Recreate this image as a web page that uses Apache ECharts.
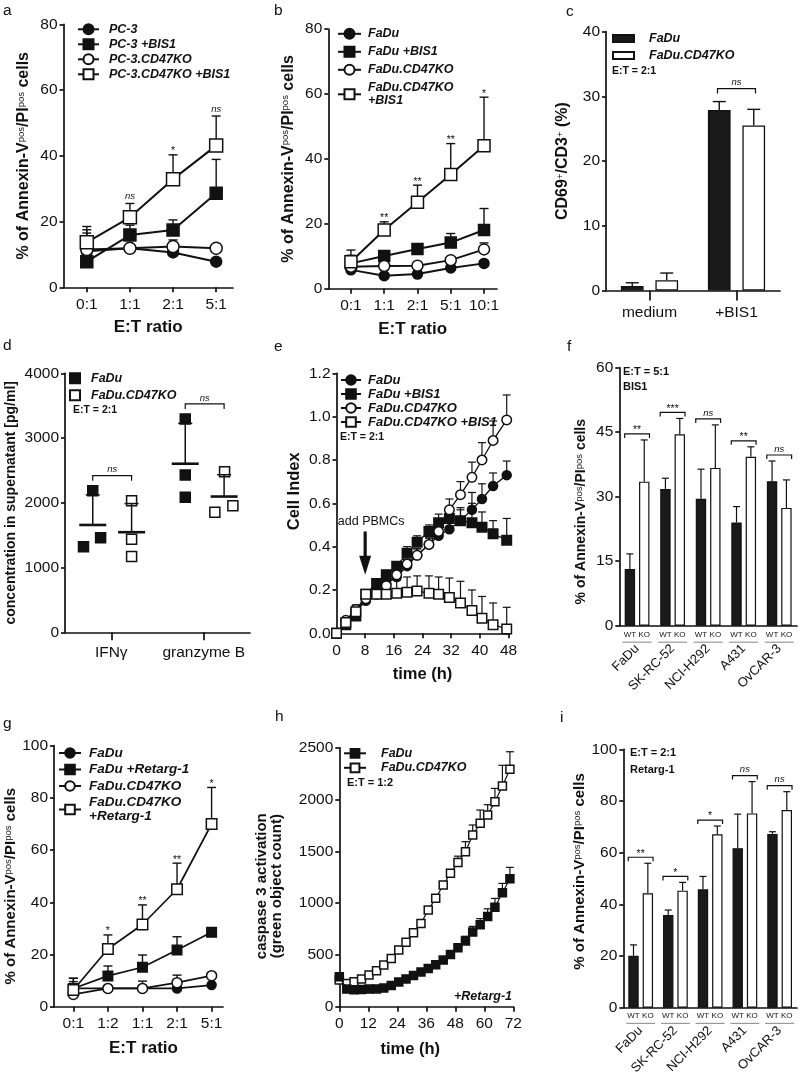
<!DOCTYPE html>
<html><head><meta charset="utf-8">
<script src="https://cdn.jsdelivr.net/npm/echarts@6/dist/echarts.min.js"></script>
<style>html,body{margin:0;padding:0;background:#fff}#c{width:800px;height:1072px}</style>
</head><body><div id="c"></div>
<script>
// ================= DATA =================
// panel a
const catsA = ['0:1','1:1','2:1','5:1'];
const aPC3 = [11.0, 11.9, 10.6, 7.8];      const aPC3Err = [6.5, 1.0, 1.0, 0.6];
const aPC3Bis = [7.8, 15.9, 17.4, 28.6];   const aPC3BisErr = [3.5, 3.0, 3.1, 10.3];
const aKO = [11.5, 11.9, 12.4, 11.9];      const aKOErr = [5.0, 1.0, 2.0, 0.6];
const aKOBis = [13.7, 21.3, 32.9, 43.1];   const aKOBisErr = [4.8, 4.2, 7.4, 9.0];
const sigA = ['', 'ns', '*', 'ns'];
// panel b
const catsB = ['0:1','1:1','2:1','5:1','10:1'];
const bFaDu = [5.8, 4.0, 4.5, 6.4, 7.8];       const bFaDuErr = [0.5, 0.5, 0.5, 0.5, 0.8];
const bFaDuBis = [7.8, 10.1, 12.2, 14.2, 18.1]; const bFaDuBisErr = [4.1, 1.0, 1.0, 2.8, 6.6];
const bKO = [6.8, 7.0, 7.1, 8.8, 12.1];         const bKOErr = [1.0, 0.5, 0.5, 1.0, 2.0];
const bKOBis = [8.3, 18.1, 26.6, 35.2, 44.0];   const bKOBisErr = [2.0, 2.5, 5.3, 9.5, 15.0];
const sigB = ['', '**', '**', '**', '*'];
// panel c
const catsC = ['medium', '+BIS1'];
const cFaDu = [0.7, 27.9]; const cFaDuErr = [0.5, 1.3];
const cKO = [1.6, 25.5];   const cKOErr = [1.1, 2.5];
const sigC = ['', 'ns'];
// panel d (replicates per category)
const catsD = ['IFNγ', 'granzyme B'];
const dFaDu = [[1323, 2188, 1462], [3295, 2430, 2085]];
const dKO = [[2033, 1436, 1169], [2481, 1853, 1956]];
const sigD = ['ns', 'ns'];
// panel e
const tE = [0, 2.6, 5.4, 8.2, 11.2, 13.9, 16.8, 19.7, 22.5, 25.8, 28.5, 31.5, 34.6, 37.8, 40.6, 43.7, 47.5];
const eFaDu = [0.00,0.05,0.10,0.15,0.19,0.23,0.26,0.31,0.36,0.41,0.45,0.48,0.52,0.57,0.62,0.68,0.73];
const eFaDuErr = [0,0,0.02,0.02,0.02,0.02,0.03,0.03,0.03,0.03,0.03,0.04,0.05,0.08,0.07,0.06,0.065];
const eFaDuBis = [0.00,0.04,0.08,0.18,0.23,0.27,0.31,0.37,0.42,0.47,0.51,0.53,0.52,0.51,0.49,0.46,0.43];
const eFaDuBisErr = [0,0,0.03,0.02,0.02,0.02,0.02,0.03,0.03,0.03,0.04,0.03,0.06,0.09,0.07,0.06,0.10];
const eKO = [0.00,0.06,0.11,0.16,0.18,0.22,0.27,0.32,0.36,0.41,0.47,0.57,0.64,0.72,0.80,0.89,0.985];
const eKOErr = [0,0,0.02,0.02,0.02,0.02,0.02,0.02,0.03,0.03,0.04,0.05,0.06,0.07,0.08,0.09,0.115];
const eKOBis = [0.00,0.05,0.10,0.18,0.18,0.18,0.185,0.19,0.195,0.185,0.18,0.165,0.14,0.105,0.07,0.04,0.02];
const eKOBisErr = [0,0,0.03,0.02,0.02,0.04,0.06,0.07,0.07,0.08,0.08,0.09,0.10,0.095,0.10,0.10,0.10];
const eArrow = [[8, 0.47, 0.27]];   // PBMC addition at 8 h
// panel f
const catsF = ['FaDu','SK-RC-52','NCI-H292','A431','OvCAR-3'];
const fWT = [13.2, 31.8, 29.5, 24.0, 33.6]; const fWTErr = [3.5, 2.5, 6.9, 3.7, 4.7];
const fKO = [33.5, 44.5, 36.7, 39.3, 27.4]; const fKOErr = [9.7, 3.7, 10.0, 2.3, 6.5];
const sigF = ['**', '***', 'ns', '**', 'ns'];
// panel g
const catsG = ['0:1','1:2','1:1','2:1','5:1'];
const gFaDu = [7.0, 7.0, 7.0, 7.0, 8.3];      const gFaDuErr = [3.9, 0.5, 0.5, 0.5, 0.5];
const gFaDuR = [7.0, 11.8, 15.1, 21.7, 28.5]; const gFaDuRErr = [2.6, 3.8, 4.7, 5.1, 0.4];
const gKO = [4.7, 7.0, 7.0, 9.2, 11.9];        const gKOErr = [1.0, 0.5, 2.8, 2.9, 0.5];
const gKOR = [6.4, 22.1, 31.5, 45.0, 70.0];    const gKORErr = [4.5, 5.4, 7.5, 10.0, 14.0];
const sigG = ['', '*', '**', '**', '*'];
// panel h
const tH = [0,3.1,6.1,9.2,12.3,15.4,18.4,21.5,24.6,27.6,30.7,33.8,36.8,39.9,43,46,49.1,52.2,55.2,58.3,61.4,64.4,67.5,70.6];
const hFaDu = [290,170,163,167,170,172,180,205,238,268,300,335,368,405,450,505,570,635,720,790,870,960,1100,1235];
const hFaDuErr = [0,0,0,0,0,0,0,0,0,0,0,0,0,0,15,25,30,45,55,60,75,85,90,110];
const hKO = [257,225,241,267,306,347,402,466,547,621,714,804,933,1046,1174,1287,1393,1496,1657,1770,1850,1979,2130,2291];
const hKOErr = [0,0,0,0,0,0,0,0,0,0,0,0,0,0,0,30,60,97,97,128,100,128,200,170];
// panel i
const catsI = ['FaDu','SK-RC-52','NCI-H292','A431','OvCAR-3'];
const iWT = [20.1, 35.9, 45.8, 61.7, 67.2]; const iWTErr = [4.2, 1.9, 5.0, 13.2, 0.9];
const iKO = [44.3, 45.3, 67.1, 75.2, 76.5]; const iKOErr = [11.6, 3.2, 3.2, 12.3, 7.1];
const sigI = ['**', '*', '*', 'ns', 'ns'];

// ================= LAYOUT / STYLE =================
const FONT = '"Liberation Sans", Arial, Helvetica, sans-serif';
const INK = '#111';
const TICK_FS = 15.5;
const D_OFF = {fadu: -0.2, ko: 0.22};
const D_JIT = {fadu: [[-0.1, 0, 0.085], [0, 0, 0]], ko: [[0, 0, 0], [0.005, -0.1, 0.095]]};

const grids = [], xAxis = [], yAxis = [], series = [], legend = [], gfx = [];
function grid(l, t, r, b) { grids.push({left: l, top: t, width: r - l, height: b - t, containLabel: false, outerBoundsMode: 'none'}); return grids.length - 1; }
function axLine() { return {show: true, onZero: false, lineStyle: {color: INK, width: 1.7}}; }
function tick(len, extra) { return Object.assign({show: true, length: len, inside: false, lineStyle: {color: INK, width: 1.7}}, extra || {}); }
function lab(size, margin, extra) { return Object.assign({color: INK, fontFamily: FONT, fontSize: size, margin: margin}, extra || {}); }
const SUP = {fontSize: 9.5, fontWeight: 'normal', fontFamily: FONT, color: INK, verticalAlign: 'top'};
function nameSt(size, pad) { return {color: INK, fontFamily: FONT, fontSize: size, fontWeight: 'bold', padding: pad || 0, rich: {s: SUP}}; }
const plain = v => String(Math.round(v * 1000) / 1000);

function yAx(g, min, max, interval, name, gap, size, pad, fmt) {
  return {gridIndex: g, type: 'value', min, max, interval, axisLine: axLine(), axisTick: tick(4),
    axisLabel: lab(TICK_FS, 6, {formatter: fmt || plain}), splitLine: {show: false},
    name, nameLocation: 'middle', nameGap: gap, nameTextStyle: nameSt(size, pad)};
}
function xCatVal(g, cats, min, max, name, gap, pad) {
  const idx = cats.map((_, i) => i);
  return {gridIndex: g, type: 'value', min, max, axisLine: axLine(), axisTick: tick(5, {customValues: idx}),
    axisLabel: lab(TICK_FS, 9, {customValues: idx, formatter: v => cats[Math.round(v)]}), splitLine: {show: false},
    name, nameLocation: 'middle', nameGap: gap, nameTextStyle: nameSt(17, pad)};
}
function xNum(g, min, max, interval, name, gap, pad) {
  return {gridIndex: g, type: 'value', min, max, interval, axisLine: axLine(), axisTick: tick(5),
    axisLabel: lab(TICK_FS, 9, {formatter: plain}), splitLine: {show: false},
    name, nameLocation: 'middle', nameGap: gap, nameTextStyle: nameSt(16.5, pad)};
}
function xCat(g, cats, tickShow, rotate, margin, size) {
  return {gridIndex: g, type: 'category', data: cats, boundaryGap: true, axisLine: axLine(),
    axisTick: tick(10, {show: tickShow, alignWithLabel: true}),
    axisLabel: lab(size, margin, {rotate: rotate, interval: 0}), splitLine: {show: false}};
}
function ln(g, name, xs, ys, sym, size, filled, lw, z) {
  return {type: 'line', name, xAxisIndex: g, yAxisIndex: g, data: xs.map((x, i) => [x, ys[i]]),
    symbol: sym, symbolSize: size, showAllSymbol: true, lineStyle: {color: INK, width: lw},
    itemStyle: {color: filled ? INK : '#fff', borderColor: INK, borderWidth: 1.5, opacity: 1},
    emphasis: {disabled: true}, z: z || 3, clip: false, animation: false};
}
function errS(g, xs, ys, es, cap, dx, lw) {
  return {type: 'custom', xAxisIndex: g, yAxisIndex: g, data: xs.map((x, i) => [x, ys[i], es[i]]),
    encode: {x: 0, y: 1}, z: 2, silent: true, animation: false, clip: false,
    renderItem: (p, api) => {
      const x = api.value(0), v = api.value(1), e = api.value(2);
      if (!(e > 0)) return null;
      const a = api.coord([x, v]), b = api.coord([x, v + e]);
      const px = a[0] + (dx || 0); const st = {stroke: INK, lineWidth: lw || 1.4};
      return {type: 'group', children: [
        {type: 'line', shape: {x1: px, y1: a[1], x2: px, y2: b[1]}, style: st},
        {type: 'line', shape: {x1: px - cap / 2, y1: b[1], x2: px + cap / 2, y2: b[1]}, style: st}]};
    }};
}
function txtStyle(t) {
  const ns = t === 'ns';
  return {text: t, fill: INK, fontFamily: FONT, fontSize: ns ? 9.5 : 10.5, fontStyle: ns ? 'italic' : 'normal', align: 'center', verticalAlign: 'bottom'};
}
function sigS(g, cats, tops, labels) {
  return {type: 'custom', xAxisIndex: g, yAxisIndex: g, data: cats.map((_, i) => [i, tops[i]]),
    encode: {x: 0, y: 1}, z: 4, silent: true, animation: false, clip: false,
    renderItem: (p, api) => {
      const t = labels[p.dataIndex]; if (!t) return null;
      const c = api.coord([api.value(0), api.value(1)]);
      return {type: 'text', x: c[0], y: c[1] - (t === 'ns' ? 2 : -2), style: txtStyle(t)};
    }};
}
function brkS(g, rows, labels, pxL, pxR, gap, drop) {
  return {type: 'custom', xAxisIndex: g, yAxisIndex: g, data: rows, encode: {x: 0, y: 1},
    z: 4, silent: true, animation: false, clip: false,
    renderItem: (p, api) => {
      const t = labels[p.dataIndex]; if (!t) return null;
      const a = api.coord([api.value(0), api.value(1)]), b = api.coord([api.value(2), api.value(1)]);
      const y = a[1] - gap, l = a[0] - pxL, r = b[0] + pxR;
      return {type: 'group', children: [
        {type: 'polyline', shape: {points: [[l, y + drop], [l, y], [r, y], [r, y + drop]]}, style: {stroke: INK, lineWidth: 1.2, fill: null}},
        {type: 'text', x: (l + r) / 2, y: y - (t === 'ns' ? 1 : -2), style: txtStyle(t)}]};
    }};
}
function tops(n, list) { return Array.from({length: n}, (_, i) => Math.max(...list.map(s => s[0][i] + s[1][i]))); }
function leg(names, left, top, fs, gap, ih, iw, spacer, fmt, icon) {
  const o = {show: true, orient: 'vertical', left, top, data: names, itemWidth: iw, itemHeight: ih, itemGap: gap,
    padding: 0, selectedMode: false,
    textStyle: {color: INK, fontFamily: FONT, fontSize: fs, fontWeight: 'bold', fontStyle: 'italic', rich: {s: {width: spacer}}},
    formatter: fmt || (n => '{s| }' + n.slice(2))};
  if (icon) o.icon = icon;
  return o;
}
function txt(t, x, y, size, weight, style, align) {
  gfx.push({type: 'text', x, y, silent: true, style: {text: t, fill: INK, fontFamily: FONT, fontSize: size,
    fontWeight: weight || 'normal', fontStyle: style || 'normal', align: align || 'left', verticalAlign: 'middle'}});
}
const ANNEX = '% of Annexin-V{s|pos}/PI{s|pos} cells';

// ---------- panel a ----------
let g = grid(63.5, 24.3, 233, 287.3);
xAxis.push(xCatVal(g, catsA, -0.54, 3.39, 'E:T ratio', 32));
yAxis.push(yAx(g, 0, 80, 20, ANNEX, 31.5, 16));
{
  const xs = catsA.map((_, i) => i);
  series.push(errS(g, xs, aPC3, aPC3Err, 9), errS(g, xs, aPC3Bis, aPC3BisErr, 9), errS(g, xs, aKO, aKOErr, 9), errS(g, xs, aKOBis, aKOBisErr, 9));
  series.push(ln(g, 'a:PC-3', xs, aPC3, 'circle', 11, true, 2),
              ln(g, 'a:PC-3 +BIS1', xs, aPC3Bis, 'rect', 12, true, 2),
              ln(g, 'a:PC-3.CD47KO', xs, aKO, 'circle', 12, false, 2),
              ln(g, 'a:PC-3.CD47KO +BIS1', xs, aKOBis, 'rect', 13, false, 2));
  series.push(sigS(g, catsA, tops(4, [[aPC3, aPC3Err], [aPC3Bis, aPC3BisErr], [aKO, aKOErr], [aKOBis, aKOBisErr]]), sigA));
  legend.push(leg(['a:PC-3', 'a:PC-3 +BIS1', 'a:PC-3.CD47KO', 'a:PC-3.CD47KO +BIS1'], 77, 22.8, 12.5, 2, 12.5, 21, 5));
}
// ---------- panel b ----------
g = grid(328.3, 29, 497, 288.7);
xAxis.push(xCatVal(g, catsB, -0.68, 4.39, 'E:T ratio', 32));
yAxis.push(yAx(g, 0, 80, 20, ANNEX, 32, 16));
{
  const xs = catsB.map((_, i) => i);
  series.push(errS(g, xs, bFaDu, bFaDuErr, 9), errS(g, xs, bFaDuBis, bFaDuBisErr, 9), errS(g, xs, bKO, bKOErr, 9), errS(g, xs, bKOBis, bKOBisErr, 9));
  series.push(ln(g, 'b:FaDu', xs, bFaDu, 'circle', 10, true, 2),
              ln(g, 'b:FaDu +BIS1', xs, bFaDuBis, 'rect', 11, true, 2),
              ln(g, 'b:FaDu.CD47KO', xs, bKO, 'circle', 11, false, 2),
              ln(g, 'b:FaDu.CD47KO +BIS1', xs, bKOBis, 'rect', 12, false, 2));
  series.push(sigS(g, catsB, tops(5, [[bFaDu, bFaDuErr], [bFaDuBis, bFaDuBisErr], [bKO, bKOErr], [bKOBis, bKOBisErr]]), sigB));
  legend.push(leg(['b:FaDu', 'b:FaDu +BIS1', 'b:FaDu.CD47KO', 'b:FaDu.CD47KO +BIS1'], 337, 27.3, 12.5, 5, 12.5, 23, 2,
    n => '{s| }' + n.slice(2).replace('CD47KO +BIS1', 'CD47KO\n{s| }+BIS1')));
}
// ---------- panel c ----------
g = grid(606, 31.7, 780, 290.5);
xAxis.push(xCat(g, catsC, true, 0, 14, 15.5));
yAxis.push(yAx(g, 0, 40, 10, 'CD69{s|+}/CD3{s|+} (%)', 35, 16));
{
  const BW = 22.7, GAP = 11.8, OFF = (BW + GAP) / 2;
  series.push({type: 'bar', name: 'c:FaDu', xAxisIndex: g, yAxisIndex: g, data: cFaDu, barWidth: BW, barGap: (GAP / BW * 100) + '%',
    itemStyle: {color: '#1a1a1a', borderColor: INK, borderWidth: 1.3}, z: 2, animation: false, emphasis: {disabled: true}});
  series.push({type: 'bar', name: 'c:FaDu.CD47KO', xAxisIndex: g, yAxisIndex: g, data: cKO, barWidth: BW,
    itemStyle: {color: '#fff', borderColor: INK, borderWidth: 1.3}, z: 2, animation: false, emphasis: {disabled: true}});
  const xs = catsC.map((_, i) => i);
  series.push(errS(g, xs, cFaDu, cFaDuErr, 13, -OFF, 1.4), errS(g, xs, cKO, cKOErr, 13, OFF, 1.4));
  const t = tops(2, [[cFaDu, cFaDuErr], [cKO, cKOErr]]);
  series.push(brkS(g, xs.map(i => [i, t[i], i]), sigC, 19, 19, 13, 5));
  legend.push(leg(['c:FaDu', 'c:FaDu.CD47KO'], 612, 32, 12.5, 4, 7, 21, 10, null, 'rect'));
  txt('E:T = 2:1', 612, 71, 10.5, 'bold');
}
// ---------- panel d ----------
g = grid(65, 373.3, 250, 632.3);
{
  const idx = catsD.map((_, i) => i);
  xAxis.push({gridIndex: g, type: 'value', min: -0.5, max: 1.5, axisLine: axLine(), axisTick: tick(8, {customValues: idx}),
    axisLabel: lab(TICK_FS, 12, {customValues: idx, formatter: v => catsD[Math.round(v)]}), splitLine: {show: false}});
  yAxis.push(yAx(g, 0, 4000, 1000, 'concentration in supernatant [pg/ml]', 47, 14));
  const mean = a => a.reduce((s, v) => s + v, 0) / a.length;
  const sd = a => { const m = mean(a); return Math.sqrt(a.reduce((s, v) => s + (v - m) * (v - m), 0) / (a.length - 1)); };
  const pts = (reps, off, jit) => reps.flatMap((r, ci) => r.map((v, k) => [ci + off + jit[ci][k], v]));
  const msRows = (reps, off) => reps.map((r, ci) => [ci + off, mean(r), sd(r)]);
  const msS = rows => ({type: 'custom', xAxisIndex: g, yAxisIndex: g, data: rows, encode: {x: 0, y: 1}, z: 4, silent: true, clip: false, animation: false,
    renderItem: (p, api) => {
      const a = api.coord([api.value(0), api.value(1)]), b = api.coord([api.value(0), api.value(1) + api.value(2)]);
      return {type: 'group', children: [
        {type: 'line', shape: {x1: a[0] - 13.5, y1: a[1], x2: a[0] + 13.5, y2: a[1]}, style: {stroke: INK, lineWidth: 2.6}},
        {type: 'line', shape: {x1: a[0], y1: a[1], x2: a[0], y2: b[1]}, style: {stroke: INK, lineWidth: 1.5}},
        {type: 'line', shape: {x1: a[0] - 7, y1: b[1], x2: a[0] + 7, y2: b[1]}, style: {stroke: INK, lineWidth: 1.5}}]};
    }});
  series.push({type: 'scatter', name: 'd:FaDu', xAxisIndex: g, yAxisIndex: g, data: pts(dFaDu, D_OFF.fadu, D_JIT.fadu), symbol: 'rect', symbolSize: 10,
    itemStyle: {color: INK, borderColor: INK, borderWidth: 1.5, opacity: 1}, z: 3, animation: false, emphasis: {disabled: true}});
  series.push({type: 'scatter', name: 'd:FaDu.CD47KO', xAxisIndex: g, yAxisIndex: g, data: pts(dKO, D_OFF.ko, D_JIT.ko), symbol: 'rect', symbolSize: 10,
    itemStyle: {color: '#fff', borderColor: INK, borderWidth: 1.5, opacity: 1}, z: 3, animation: false, emphasis: {disabled: true}});
  series.push(msS(msRows(dFaDu, D_OFF.fadu)), msS(msRows(dKO, D_OFF.ko)));
  const brTop = idx.map(i => Math.max(...dFaDu[i], ...dKO[i], mean(dFaDu[i]) + sd(dFaDu[i]), mean(dKO[i]) + sd(dKO[i])));
  series.push(brkS(g, idx.map(i => [i + D_OFF.fadu, brTop[i], i + D_OFF.ko]), sigD, 0, 0, 15, 5));
  legend.push(leg(['d:FaDu', 'd:FaDu.CD47KO'], 69, 371.7, 12.5, 4, 10, 10, 6, null));
  txt('E:T = 2:1', 73, 410, 10.5, 'bold');
}
// ---------- panel e ----------
g = grid(336.5, 373.3, 508.5, 633.3);
xAxis.push(xNum(g, 0, 48, 8, 'time (h)', 33));
yAxis.push(yAx(g, 0, 1.2, 0.2, 'Cell Index', 34, 16.5, [0, 0, 0, 24], v => v.toFixed(1)));
{
  series.push(errS(g, tE, eFaDu, eFaDuErr, 8, 0, 1.2), errS(g, tE, eFaDuBis, eFaDuBisErr, 8, 0, 1.2),
              errS(g, tE, eKO, eKOErr, 8, 0, 1.2), errS(g, tE, eKOBis, eKOBisErr, 8, 0, 1.2));
  series.push(ln(g, 'e:FaDu', tE, eFaDu, 'circle', 9, true, 1.3),
              ln(g, 'e:FaDu +BIS1', tE, eFaDuBis, 'rect', 9.5, true, 1.3),
              ln(g, 'e:FaDu.CD47KO', tE, eKO, 'circle', 9.5, false, 1.3),
              ln(g, 'e:FaDu.CD47KO +BIS1', tE, eKOBis, 'rect', 9.5, false, 1.3));
  series.push({type: 'custom', xAxisIndex: g, yAxisIndex: g, data: eArrow, encode: {x: 0, y: 1}, z: 5, silent: true, clip: false, animation: false,
    renderItem: (p, api) => {
      const a = api.coord([api.value(0), api.value(1)]), b = api.coord([api.value(0), api.value(2)]);
      return {type: 'group', children: [
        {type: 'line', shape: {x1: a[0], y1: a[1], x2: a[0], y2: b[1] - 16}, style: {stroke: INK, lineWidth: 3.2}},
        {type: 'polygon', shape: {points: [[a[0] - 6, b[1] - 19], [a[0] + 6, b[1] - 19], [a[0], b[1]]]}, style: {fill: INK}},
        {type: 'text', x: a[0] + 6, y: a[1] - 3, style: {text: 'add PBMCs', fill: INK, fontFamily: FONT, fontSize: 12.5, align: 'center', verticalAlign: 'bottom'}}]};
    }});
  legend.push(leg(['e:FaDu', 'e:FaDu +BIS1', 'e:FaDu.CD47KO', 'e:FaDu.CD47KO +BIS1'], 340, 373.5, 13, 1, 12, 20, 2));
  txt('E:T = 2:1', 340, 437, 10.5, 'bold');
}
// ---------- panels f / i ----------
function barPanel(gi, cats, wt, wtE, ko, koE, sig, key, wtY, ulY) {
  const BW = 10.4, GAP = 3.95, OFF = (BW + GAP) / 2;
  series.push({type: 'bar', name: key + 'WT', xAxisIndex: gi, yAxisIndex: gi, data: wt, barWidth: BW, barGap: (GAP / BW * 100) + '%',
    itemStyle: {color: '#1a1a1a', borderColor: INK, borderWidth: 1.2}, z: 2, animation: false, emphasis: {disabled: true}});
  series.push({type: 'bar', name: key + 'KO', xAxisIndex: gi, yAxisIndex: gi, data: ko, barWidth: BW,
    itemStyle: {color: '#fff', borderColor: INK, borderWidth: 1.2}, z: 2, animation: false, emphasis: {disabled: true}});
  const xs = cats.map((_, i) => i);
  series.push(errS(gi, xs, wt, wtE, 7, -OFF, 1.2), errS(gi, xs, ko, koE, 7, OFF, 1.2));
  const t = tops(cats.length, [[wt, wtE], [ko, koE]]);
  series.push(brkS(gi, xs.map(i => [i, t[i], i]), sig, 12.4, 12.4, 6, 4));
  series.push({type: 'custom', xAxisIndex: gi, yAxisIndex: gi, data: xs.map(i => [i, 0]), encode: {x: 0, y: 1}, z: 4, silent: true, clip: false, animation: false,
    renderItem: (p, api) => {
      const c = api.coord([api.value(0), 0]);
      const st = t => ({text: t, fill: INK, fontFamily: FONT, fontSize: 8, align: 'center', verticalAlign: 'middle'});
      return {type: 'group', children: [
        {type: 'text', x: c[0] - OFF, y: c[1] + wtY, style: st('WT')},
        {type: 'text', x: c[0] + OFF, y: c[1] + wtY, style: st('KO')},
        {type: 'line', shape: {x1: c[0] - 14.5, y1: c[1] + ulY, x2: c[0] + 14.5, y2: c[1] + ulY}, style: {stroke: '#999', lineWidth: 1.2}}]};
    }});
}
g = grid(619.3, 367.7, 797, 625.7);
xAxis.push(xCat(g, catsF, false, 45, 21, 13));
yAxis.push(yAx(g, 0, 60, 15, ANNEX, 31, 14, [0, 30, 0, 0]));
barPanel(g, catsF, fWT, fWTErr, fKO, fKOErr, sigF, 'f:', 9.5, 16.5);
txt('E:T = 5:1', 623, 371.7, 11, 'bold');
txt('BIS1', 623, 386.7, 11, 'bold');
// ---------- panel g ----------
g = grid(54, 745.7, 223, 1006.7);
xAxis.push(xCatVal(g, catsG, -0.56, 4.33, 'E:T ratio', 33, [0, 0, 0, 10]));
yAxis.push(yAx(g, 0, 100, 20, ANNEX, 27, 15, [0, 20, 0, 0]));
{
  const xs = catsG.map((_, i) => i);
  series.push(errS(g, xs, gFaDu, gFaDuErr, 9), errS(g, xs, gFaDuR, gFaDuRErr, 9), errS(g, xs, gKO, gKOErr, 9), errS(g, xs, gKOR, gKORErr, 9));
  series.push(ln(g, 'g:FaDu', xs, gFaDu, 'circle', 9, true, 1.7),
              ln(g, 'g:FaDu +Retarg-1', xs, gFaDuR, 'rect', 9.5, true, 1.7),
              ln(g, 'g:FaDu.CD47KO', xs, gKO, 'circle', 10, false, 1.7),
              ln(g, 'g:FaDu.CD47KO +Retarg-1', xs, gKOR, 'rect', 10.5, false, 1.7));
  series.push(sigS(g, catsG, tops(5, [[gFaDu, gFaDuErr], [gFaDuR, gFaDuRErr], [gKO, gKOErr], [gKOR, gKORErr]]), sigG));
  legend.push(leg(['g:FaDu', 'g:FaDu +Retarg-1', 'g:FaDu.CD47KO', 'g:FaDu.CD47KO +Retarg-1'], 58, 746, 13.5, 2.5, 12, 22, 3,
    n => '{s| }' + n.slice(2).replace('CD47KO +Retarg-1', 'CD47KO\n{s| }+Retarg-1')));
}
// ---------- panel h ----------
g = grid(339.3, 747.7, 513.3, 1006.7);
xAxis.push(xNum(g, 0, 72, 12, 'time (h)', 34, [0, 32, 0, 0]));
yAxis.push(yAx(g, 0, 2500, 500, 'caspase 3 activation\n(green object count)', 55, 15, [0, 18, 0, 0]));
{
  series.push(errS(g, tH, hKO, hKOErr, 8, 0, 1.2), errS(g, tH, hFaDu, hFaDuErr, 8, 0, 1.2));
  series.push(ln(g, 'h:FaDu.CD47KO', tH, hKO, 'rect', 8, false, 1.2, 3),
              ln(g, 'h:FaDu', tH, hFaDu, 'rect', 8, true, 1.2, 4));
  legend.push(leg(['h:FaDu', 'h:FaDu.CD47KO'], 343, 746.8, 12.5, 1.5, 11, 22, 10));
  txt('E:T = 1:2', 347, 783, 11, 'bold');
  txt('+Retarg-1', 512, 997, 12.5, 'bold', 'italic', 'right');
}
// ---------- panel i ----------
g = grid(623.3, 749.3, 797, 1007.7);
xAxis.push(xCat(g, catsI, false, 45, 21, 13));
yAxis.push(yAx(g, 0, 100, 20, ANNEX, 33, 15, [0, 0, 0, 14]));
barPanel(g, catsI, iWT, iWTErr, iKO, iKOErr, sigI, 'i:', 8, 15.7);
txt('E:T = 2:1', 630, 753.3, 11, 'bold');
txt('Retarg-1', 630, 770, 11, 'bold');

// panel letters
[['a', 7, 11], ['b', 278, 11], ['c', 570, 12], ['d', 7, 346], ['e', 278, 347], ['f', 571, 347], ['g', 7, 724], ['h', 279, 717], ['i', 564, 718]]
  .forEach(([t, x, y]) => txt(t, x - 4, y, 15.5));

const chart = echarts.init(document.getElementById('c'), null, {renderer: 'canvas', width: 800, height: 1072});
chart.setOption({
  animation: false, backgroundColor: '#fff', textStyle: {fontFamily: FONT},
  grid: grids, xAxis, yAxis, series, legend, graphic: {elements: gfx}, tooltip: {show: false}
});
</script></body></html>
